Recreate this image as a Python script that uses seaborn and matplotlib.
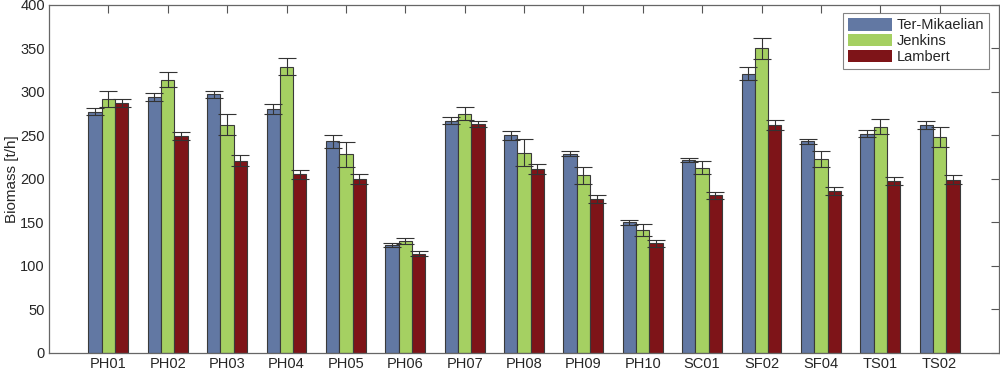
import numpy as np
import pandas as pd
import matplotlib
matplotlib.use("Agg")
import matplotlib.pyplot as plt
import seaborn as sns

# ---------------------------------
# DATA
# ---------------------------------

sites = ["PH01", "PH02", "PH03", "PH04", "PH05", "PH06", "PH07", "PH08",
         "PH09", "PH10", "SC01", "SF02", "SF04", "TS01", "TS02"]
methods = ["Ter-Mikaelian", "Jenkins", "Lambert"]

ter_mikaelian = [277, 294, 297, 280, 243, 124, 267, 250, 229, 150, 222, 321, 243, 252, 262]
jenkins = [292, 314, 262, 329, 228, 129, 275, 230, 204, 141, 213, 350, 223, 260, 248]
lambert = [287, 249, 221, 205, 200, 114, 263, 211, 177, 126, 181, 262, 186, 197, 199]

ter_mikaelian_err = [4, 5, 4, 6, 7, 2.5, 3.5, 5, 3, 2.7, 2.5, 7, 3, 4, 4.6]
jenkins_err = [9, 9, 12, 10, 14, 3.5, 7.5, 15.5, 10, 6.5, 7, 12, 9.4, 9, 11]
lambert_err = [4.5, 4.5, 6, 5, 6, 3, 4, 5.5, 4.6, 3.8, 4, 5.5, 5, 4.6, 5.3]

colors = ["#6278a3", "#a5d062", "#7e1418"]

df = pd.DataFrame({
    "Site": sites * 3,
    "Method": np.repeat(methods, len(sites)),
    "Biomass": ter_mikaelian + jenkins + lambert,
    "Err": ter_mikaelian_err + jenkins_err + lambert_err,
})

# ---------------------------------
# PLOT
# ---------------------------------

sns.set_style("white")
plt.rcParams["font.family"] = ["Liberation Sans", "DejaVu Sans"]

fig = plt.figure(figsize=(10, 3.71), dpi=100)
ax = fig.add_axes([0.049, 0.049, 0.95, 0.938])

sns.barplot(
    data=df, x="Site", y="Biomass", hue="Method",
    order=sites, hue_order=methods, palette=colors,
    width=0.67, errorbar=None, edgecolor="#3a3a3a", linewidth=0.8,
    saturation=1, ax=ax,
)

# error bars on each bar
for container, method in zip(ax.containers, methods):
    sub = df[df["Method"] == method].set_index("Site").loc[sites]
    xs = [p.get_x() + p.get_width() / 2 for p in container]
    ax.errorbar(xs, sub["Biomass"], yerr=sub["Err"], fmt="none",
                ecolor="#333333", elinewidth=0.8, capsize=6.5, capthick=0.8)

ax.set_xlim(-1, 15)
ax.set_ylim(0, 400)
ax.set_yticks(range(0, 401, 50))
ax.set_xlabel("")
ax.set_ylabel("Biomass [t/h]", fontsize=11, labelpad=1)

for s in ax.spines.values():
    s.set_visible(True)
    s.set_color("#666666")
    s.set_linewidth(0.9)

ax.tick_params(direction="in", top=True, right=True, length=6, width=0.8,
               color="#555555", labelsize=10.5, pad=3)

leg = ax.legend(loc="upper right", bbox_to_anchor=(0.993, 0.985), fontsize=10.5,
                frameon=True, fancybox=False, edgecolor="#666666",
                handlelength=3.0, handleheight=0.95, borderpad=0.35,
                labelspacing=0.1, handletextpad=0.35, borderaxespad=0.2)
leg.get_frame().set_linewidth(0.8)
for h in leg.legend_handles:
    h.set_edgecolor("none")

fig.savefig("out.png", dpi=100)
